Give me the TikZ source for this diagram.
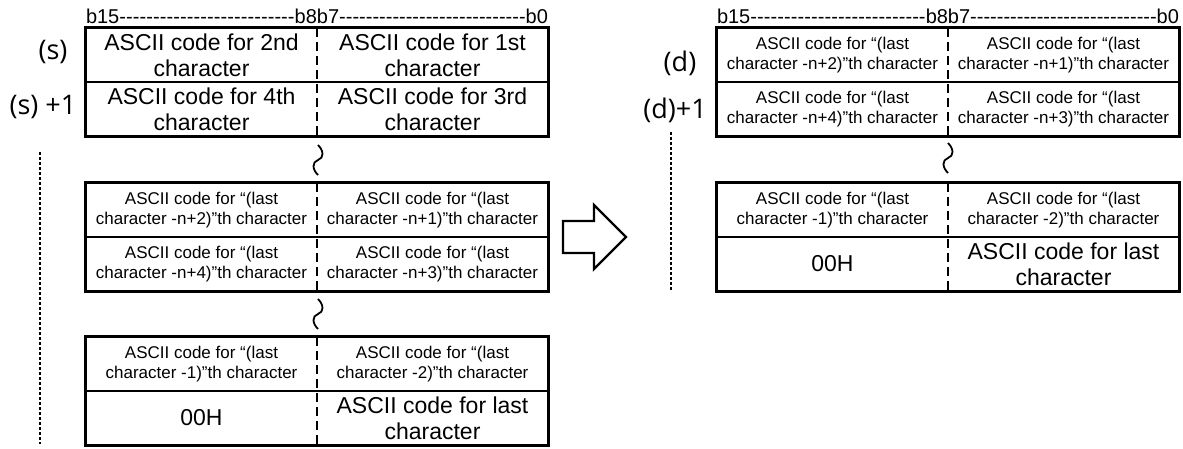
\documentclass[tikz,border=0pt]{standalone}
\usepackage{fontspec}
\setmainfont{Liberation Sans}
\newfontfamily\lblfont{Open Sans}
\begin{document}
\begin{tikzpicture}[x=1pt, y=-1pt,
  cell/.style={minimum width=231pt, minimum height=54pt, inner sep=0pt, align=center, font=\fontsize{23}{26}\selectfont},
  small/.style={font=\fontsize{17}{20}\selectfont},
  frame/.style={line width=3pt},
  rowline/.style={line width=2.2pt},
  divider/.style={line width=2pt, dash pattern=on 9pt off 5pt},
  dots/.style={line width=2.6pt, dash pattern=on 3pt off 2pt},
  squig/.style={line width=1.8pt},
  lbl/.style={font=\lblfont\fontsize{27}{30}\selectfont},
  bits/.style={font=\fontsize{20}{22}\selectfont, inner sep=0pt, anchor=base}]
  \useasboundingbox (0,0) rectangle (1183,448);

  \node[bits] (sbits) at (317,23) {\makebox[231pt][l]{b15\xleaders\hbox{-}\hfill b8}\makebox[231pt][r]{b7\xleaders\hbox{-}\hfill b0}};
  \node[bits] (dbits) at (948,23) {\makebox[231pt][l]{b15\xleaders\hbox{-}\hfill b8}\makebox[231pt][r]{b7\xleaders\hbox{-}\hfill b0}};

  \node[lbl] (slbl0) at (53,52) {(s)};
  \node[lbl] (slbl1) at (43,107) {(s) +1};
  \node[lbl] (dlbl0) at (680,63) {(d)};
  \node[lbl] (dlbl1) at (675,110) {(d)+1};

  \node[cell] (s1h) at (201.5,55) {ASCII code for 2nd\\character};
  \node[cell] (s1l) at (432.5,55) {ASCII code for 1st\\character};
  \node[cell] (s2h) at (201.5,109) {ASCII code for 4th\\character};
  \node[cell] (s2l) at (432.5,109) {ASCII code for 3rd\\character};

  \node[cell, small] (sm1h) at (201.5,210) {ASCII code for “(last\\character -n+2)”th character};
  \node[cell, small] (sm1l) at (432.5,210) {ASCII code for “(last\\character -n+1)”th character};
  \node[cell, small] (sm2h) at (201.5,264) {ASCII code for “(last\\character -n+4)”th character};
  \node[cell, small] (sm2l) at (432.5,264) {ASCII code for “(last\\character -n+3)”th character};

  \node[cell, small] (se1h) at (201.5,364) {ASCII code for “(last\\character -1)”th character};
  \node[cell, small] (se1l) at (432.5,364) {ASCII code for “(last\\character -2)”th character};
  \node[cell] (se2h) at (201.5,418) {00H};
  \node[cell] (se2l) at (432.5,418) {ASCII code for last\\character};

  \node[cell, small] (d1h) at (832.5,55) {ASCII code for “(last\\character -n+2)”th character};
  \node[cell, small] (d1l) at (1063.5,55) {ASCII code for “(last\\character -n+1)”th character};
  \node[cell, small] (d2h) at (832.5,109) {ASCII code for “(last\\character -n+4)”th character};
  \node[cell, small] (d2l) at (1063.5,109) {ASCII code for “(last\\character -n+3)”th character};

  \node[cell, small] (de1h) at (832.5,210) {ASCII code for “(last\\character -1)”th character};
  \node[cell, small] (de1l) at (1063.5,210) {ASCII code for “(last\\character -2)”th character};
  \node[cell] (de2h) at (832.5,264) {00H};
  \node[cell] (de2l) at (1063.5,264) {ASCII code for last\\character};

  \foreach \a/\b/\c/\d in {s1h/s1l/s2h/s2l, sm1h/sm1l/sm2h/sm2l, se1h/se1l/se2h/se2l, d1h/d1l/d2h/d2l, de1h/de1l/de2h/de2l}{
    \draw[frame] (\a.north west) rectangle (\d.south east);
    \draw[rowline] (\a.south west) -- (\b.south east);
    \draw[divider] (\a.north east) -- (\c.south east);
  }

  \foreach \x/\y in {318/145, 318/299, 948/143}
    \draw[squig, shift={(\x,\y)}] (0,0) .. controls (6,6) and (6,13) .. (0,15) .. controls (-6,17) and (-6,24) .. (0,30);

  \coordinate (sdot1) at (40,152);
  \coordinate (sdot2) at (40,444);
  \coordinate (ddot1) at (671,132);
  \coordinate (ddot2) at (671,290);
  \draw[dots] (sdot1) -- (sdot2);
  \draw[dots] (ddot1) -- (ddot2);

  \draw[line width=2.4pt] (563,221) -- (594,221) -- (594,205) -- (626,237) -- (594,269) -- (594,253) -- (563,253) -- cycle;
\end{tikzpicture}
\end{document}
